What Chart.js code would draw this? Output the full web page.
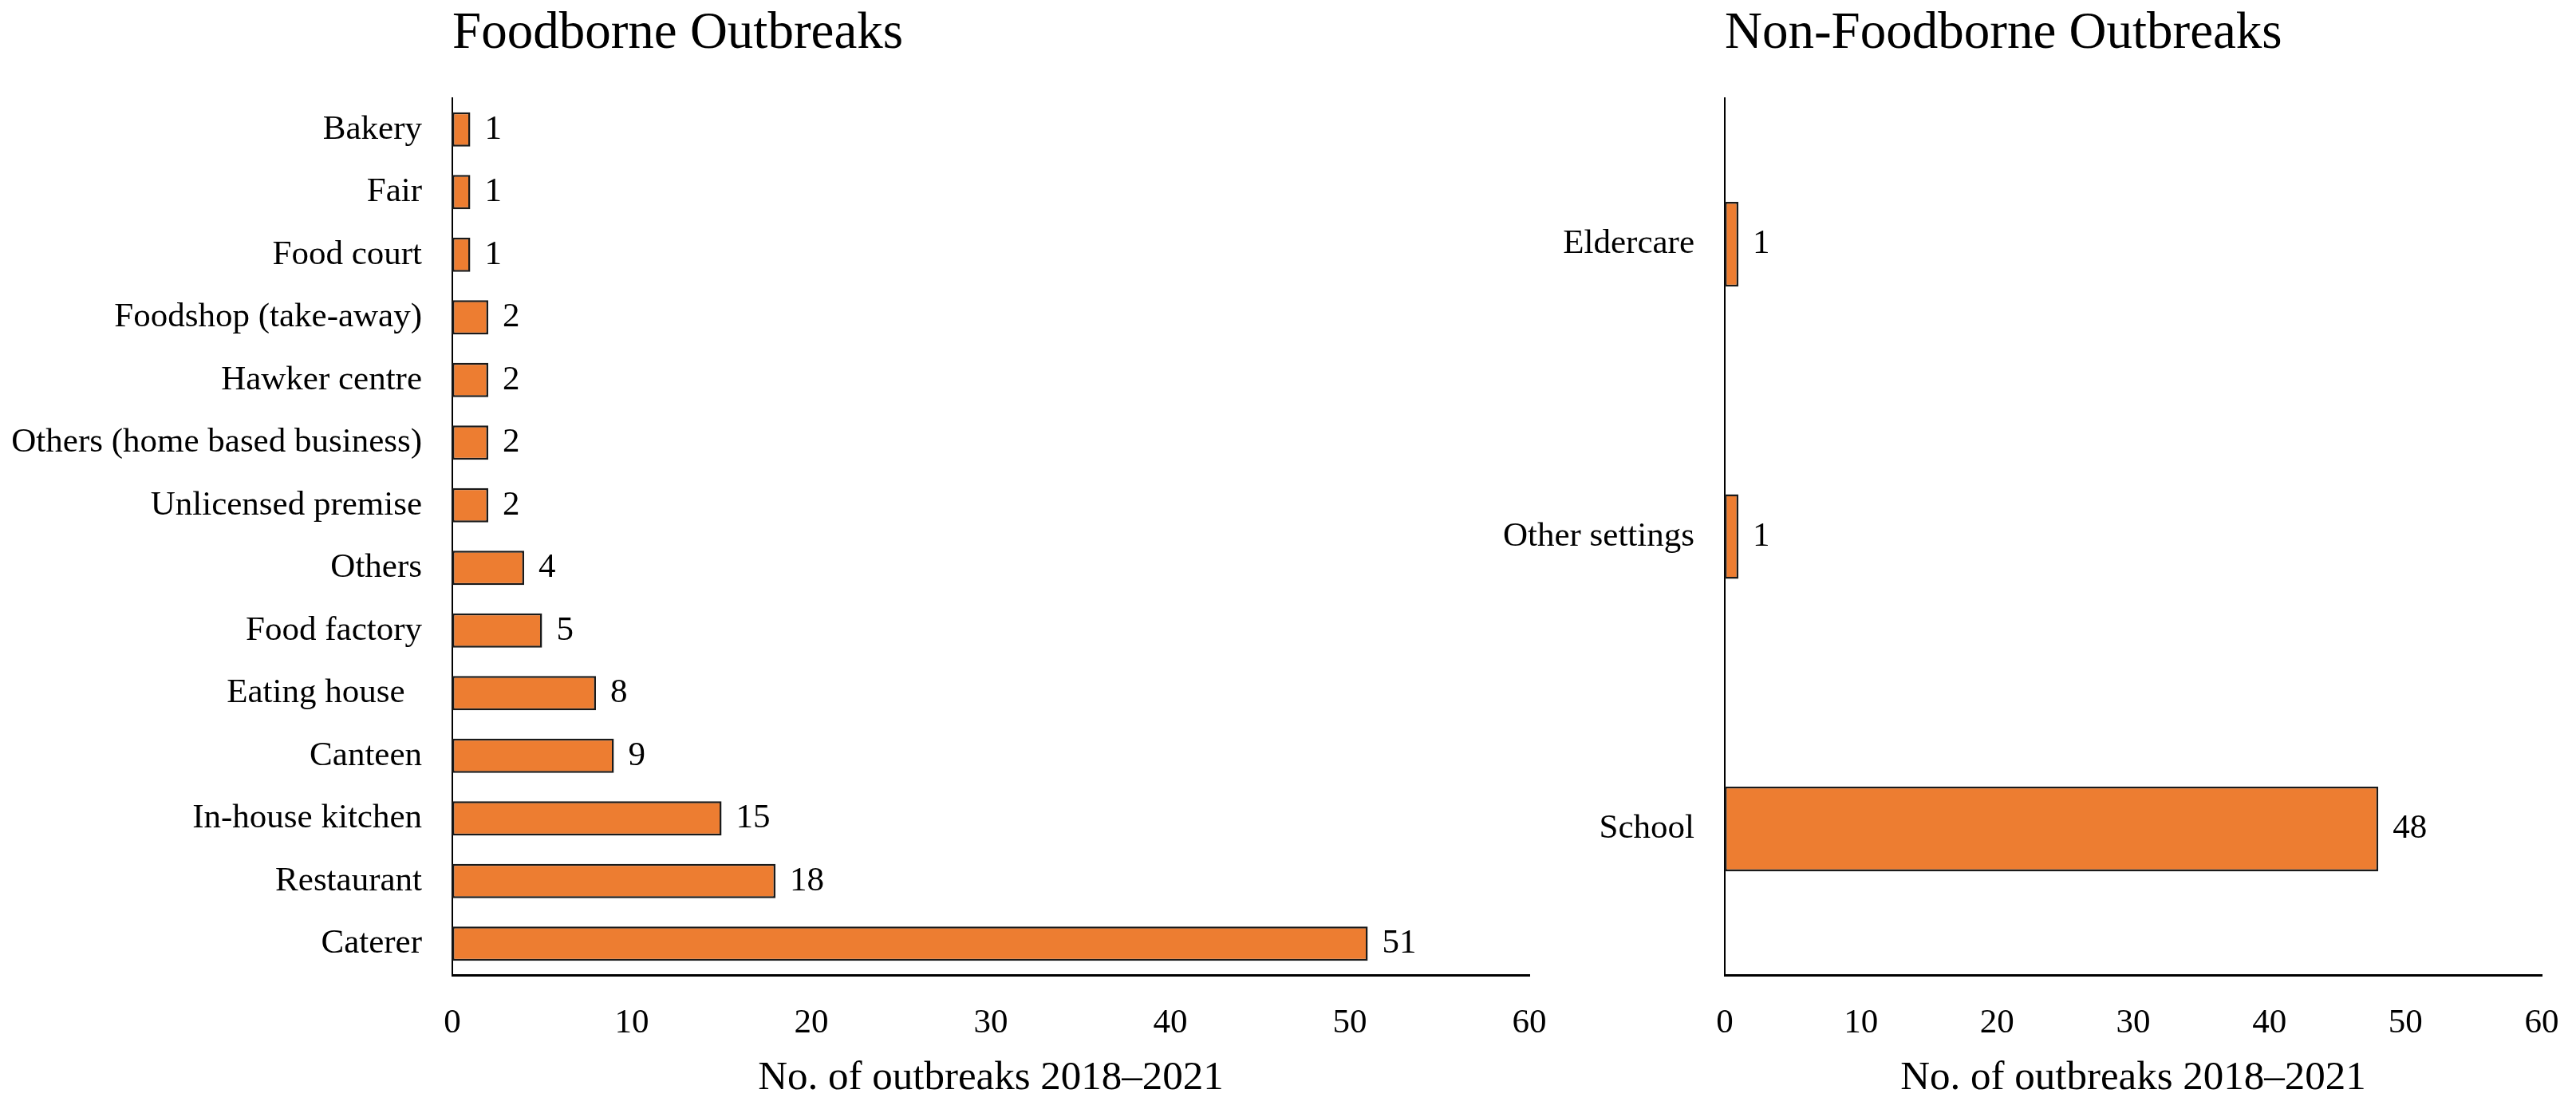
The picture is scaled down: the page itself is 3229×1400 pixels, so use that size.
<!DOCTYPE html>
<html>
<head>
<meta charset="utf-8">
<script src="https://cdn.jsdelivr.net/npm/chart.js@4.4.0/dist/chart.umd.min.js"></script>
<style>
    html, body { margin: 0; padding: 0; background: #fff; overflow: hidden; width: 3229px; height: 1400px; }
    .box { position: absolute; top: 0; height: 1400px; }
    #left { left: 0; width: 1990px; }
    #right { left: 1850px; width: 1440px; }
</style>
</head>
<body>
<div class="box" id="left"><canvas id="foodborne"></canvas></div>
<div class="box" id="right"><canvas id="nonFoodborne"></canvas></div>
<script>
const foodSettings = ['Bakery', 'Fair', 'Food court', 'Foodshop (take-away)', 'Hawker centre', 'Others (home based business)', 'Unlicensed premise', 'Others', 'Food factory', 'Eating house  ', 'Canteen', 'In-house kitchen', 'Restaurant', 'Caterer'];
const foodCounts = [1, 1, 1, 2, 2, 2, 2, 4, 5, 8, 9, 15, 18, 51];

const nonFoodSettings = ['Eldercare', 'Other settings', 'School'];
const nonFoodCounts = [1, 1, 48];

const xMin = 0, xMax = 60, xStep = 10;
const axisTitle = 'No. of outbreaks 2018\u20132021';

const FONT = 'Liberation Serif, Times New Roman, serif';
const ORANGE = '#ED7D31';

// value labels to the right of each bar
const valueLabels = {
    id: 'valueLabels',
    afterDatasetsDraw(chart) {
        const ctx = chart.ctx;
        ctx.save();
        ctx.font = '43px ' + FONT;
        ctx.fillStyle = '#000';
        ctx.textAlign = 'left';
        ctx.textBaseline = 'middle';
        chart.getDatasetMeta(0).data.forEach((bar, i) => {
            ctx.fillText(chart.data.datasets[0].data[i], bar.x + 18, bar.y);
        });
        ctx.restore();
    }
};

function makeChart(id, title, labels, values, yWidth, barPct, padRight) {
    return new Chart(document.getElementById(id), {
        type: 'bar',
        data: {
            labels: labels,
            datasets: [{
                data: values,
                backgroundColor: ORANGE,
                borderColor: '#1a1a1a',
                borderWidth: 2.5,
                borderSkipped: false,
                barPercentage: barPct,
                categoryPercentage: 1,
            }]
        },
        options: {
            indexAxis: 'y',
            responsive: true,
            maintainAspectRatio: false,
            animation: false,
            layout: { padding: { left: 0, right: padRight, top: 0, bottom: 0 } },
            scales: {
                x: {
                    min: xMin,
                    max: xMax,
                    grid: { display: false, drawTicks: false },
                    border: { display: true, color: '#000', width: 3 },
                    ticks: { stepSize: xStep, padding: 35, color: '#000', font: { family: FONT, size: 43 } },
                    title: {
                        display: true,
                        text: axisTitle,
                        color: '#000',
                        font: { family: FONT, size: 51 },
                        padding: { top: 0, bottom: 18 }
                    },
                    afterFit: (scale) => { scale.height = 178; }
                },
                y: {
                    grid: { display: false, drawTicks: false },
                    border: { display: true, color: '#000', width: 2 },
                    ticks: { padding: 38, color: '#000', font: { family: FONT, size: 43 } },
                    afterFit: (scale) => { scale.width = yWidth; }
                }
            },
            plugins: {
                legend: { display: false },
                tooltip: { enabled: false },
                title: {
                    display: true,
                    text: title,
                    align: 'start',
                    fullSize: false,
                    color: '#000',
                    font: { family: FONT, size: 65, weight: 'normal' },
                    padding: { top: 4, bottom: 41 }
                }
            }
        },
        plugins: [valueLabels]
    });
}

makeChart('foodborne', 'Foodborne Outbreaks', foodSettings, foodCounts, 567, 0.55, 73);
makeChart('nonFoodborne', 'Non-Foodborne Outbreaks', nonFoodSettings, nonFoodCounts, 312, 0.29, 104);
</script>
</body>
</html>
